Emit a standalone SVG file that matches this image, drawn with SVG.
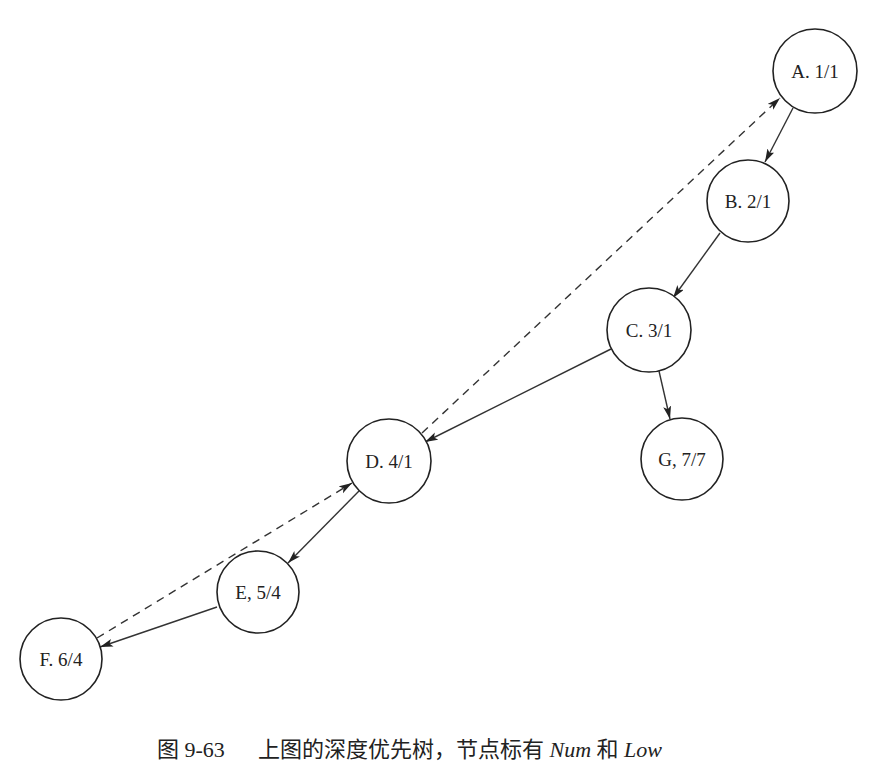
<svg xmlns="http://www.w3.org/2000/svg" width="876" height="774" viewBox="0 0 876 774">
<style>
.node circle{fill:#fff;stroke:#222;stroke-width:1.6}
.node text{font-family:"Liberation Serif","Noto Sans CJK SC",serif;font-size:19px;fill:#222;text-anchor:middle}
.edge{stroke:#333;stroke-width:1.4;fill:none}
.back{stroke:#333;stroke-width:1.4;fill:none;stroke-dasharray:8 6}
.cap{font-family:"Liberation Serif","Noto Sans CJK SC",serif;font-size:22px;fill:#222}
</style>
<defs>
<marker id="arr" markerUnits="userSpaceOnUse" markerWidth="14" markerHeight="10" refX="13" refY="4" orient="auto">
<path d="M0,0 L13,4 L0,8 L3,4 z" fill="#222"/>
</marker>
</defs>
<rect width="876" height="774" fill="#fff"/>
<g id="connectors">
<line class="edge" x1="793" y1="108" x2="765" y2="162" marker-end="url(#arr)"/>
<line class="edge" x1="720" y1="233" x2="673" y2="298" marker-end="url(#arr)"/>
<line class="edge" x1="611" y1="349" x2="425" y2="442" marker-end="url(#arr)"/>
<line class="edge" x1="659" y1="371" x2="670" y2="419" marker-end="url(#arr)"/>
<line class="edge" x1="359" y1="491" x2="288" y2="563" marker-end="url(#arr)"/>
<line class="edge" x1="217" y1="607" x2="100" y2="647" marker-end="url(#arr)"/>
<line class="back" x1="422" y1="433" x2="780" y2="98" marker-end="url(#arr)"/>
<line class="back" x1="97" y1="638" x2="352" y2="483" marker-end="url(#arr)"/>
</g>
<g id="node-A" class="node"><circle cx="815" cy="71" r="42"/><text x="815" y="78">A. 1/1</text></g>
<g id="node-B" class="node"><circle cx="748" cy="201" r="41"/><text x="748" y="208">B. 2/1</text></g>
<g id="node-C" class="node"><circle cx="649" cy="330" r="42"/><text x="649" y="337">C. 3/1</text></g>
<g id="node-D" class="node"><circle cx="389" cy="461" r="42"/><text x="389" y="468">D. 4/1</text></g>
<g id="node-G" class="node"><circle cx="682" cy="459" r="41"/><text x="682" y="466">G, 7/7</text></g>
<g id="node-E" class="node"><circle cx="258" cy="592" r="41"/><text x="258" y="599">E, 5/4</text></g>
<g id="node-F" class="node"><circle cx="61" cy="659" r="41"/><text x="61" y="666">F. 6/4</text></g>
<g id="caption">
<text class="cap" x="157" y="757">图 9-63</text>
<text class="cap" x="258" y="757">上图的深度优先树，节点标有 <tspan font-style="italic">Num</tspan> 和 <tspan font-style="italic">Low</tspan></text>
</g>
</svg>
